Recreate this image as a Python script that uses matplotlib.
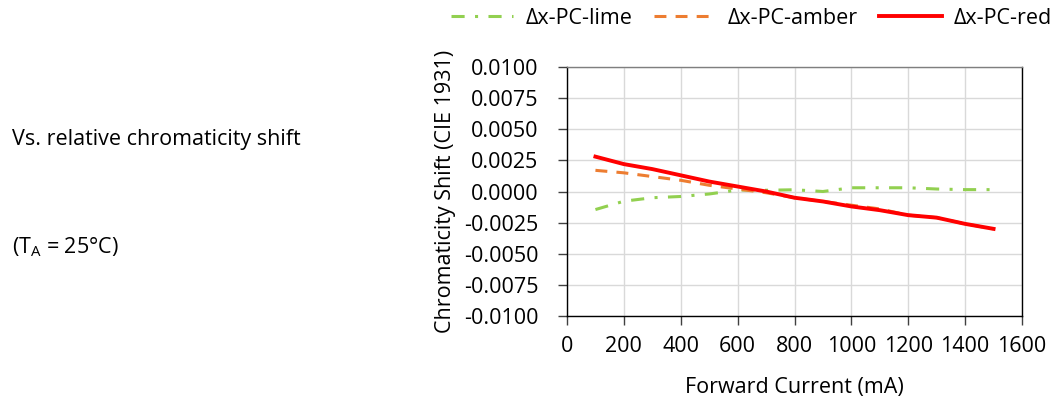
import matplotlib
matplotlib.use("Agg")
import matplotlib.pyplot as plt
import numpy as np

plt.rcParams['font.family'] = ['Open Sans', 'DejaVu Sans']

# forward current (mA)
current = [100, 200, 300, 400, 500, 600, 700, 800, 900, 1000, 1100, 1200, 1300, 1400, 1500]

# chromaticity shift (CIE 1931)
lime = [-0.00145, -0.00078, -0.0005, -0.0004, -0.0002, 0.00012, 0.0001, 0.00014,
        0.0000, 0.0003, 0.0003, 0.0003, 0.0002, 0.00015, 0.00015]
amber = [0.0017, 0.0015, 0.0012, 0.0009, 0.0005, 0.0002, -0.0001, -0.0005,
         -0.0008, -0.0011, -0.0014, -0.0019, -0.0021, -0.0026, -0.0030]
red = [0.0028, 0.0022, 0.0018, 0.0013, 0.0008, 0.0004, 0.0000, -0.0005,
       -0.0008, -0.0012, -0.0015, -0.0019, -0.0021, -0.0026, -0.0030]

labels = ['Δx-PC-lime', 'Δx-PC-amber', 'Δx-PC-red']
colors = ['#92D050', '#ED7D31', '#FF0000']

fs = 15.5

fig = plt.figure(figsize=(10.54, 3.97), dpi=100)
ax = fig.add_axes([567 / 1054, 1 - 316 / 397, 455 / 1054, 249 / 397])

ax.plot(current, lime, color=colors[0], lw=2.2, linestyle=(0, (4.3, 3.4, 1.0, 3.4)), label=labels[0])
ax.plot(current, amber, color=colors[1], lw=2.2, linestyle=(0, (3.9, 3.0)), label=labels[1])
ax.plot(current, red, color=colors[2], lw=2.8, label=labels[2])

ax.set_xlim(0, 1600)
ax.set_ylim(-0.01, 0.01)
ax.set_xticks(np.arange(0, 1601, 200))
ax.set_yticks(np.arange(-0.01, 0.01001, 0.0025))
ax.set_yticklabels(['%.4f' % v for v in np.arange(-0.01, 0.01001, 0.0025)])
ax.grid(True, color='#d9d9d9', lw=1.0)
ax.set_axisbelow(True)

for s in ['left', 'bottom', 'right']:
    ax.spines[s].set_color('black')
ax.spines['top'].set_color('#7f7f7f')
for s in ax.spines.values():
    s.set_linewidth(1.0)
ax.tick_params(axis='both', labelsize=fs, length=6.5, width=1.0, color='#404040')
ax.tick_params(axis='y', pad=14)
ax.tick_params(axis='x', pad=8)

ax.set_xlabel('Forward Current (mA)', fontsize=fs, labelpad=14)
ax.set_ylabel('Chromaticity Shift (CIE 1931)', fontsize=fs, labelpad=6)

fig.legend(loc='upper right', bbox_to_anchor=(1052 / 1054, 1 - 8 / 397), ncol=3, frameon=False,
           fontsize=fs, handlelength=2.9, columnspacing=1.0, handletextpad=0.55,
           borderpad=0, borderaxespad=0)

fig.text(12 / 1054, 1 - 140 / 397, 'Vs. relative chromaticity shift', fontsize=fs, va='center')
fig.text(12 / 1054, 1 - 247 / 397, '(T$_\\mathregular{A}$ = 25°C)', fontsize=fs, va='center')

fig.savefig('out.png', dpi=100)
